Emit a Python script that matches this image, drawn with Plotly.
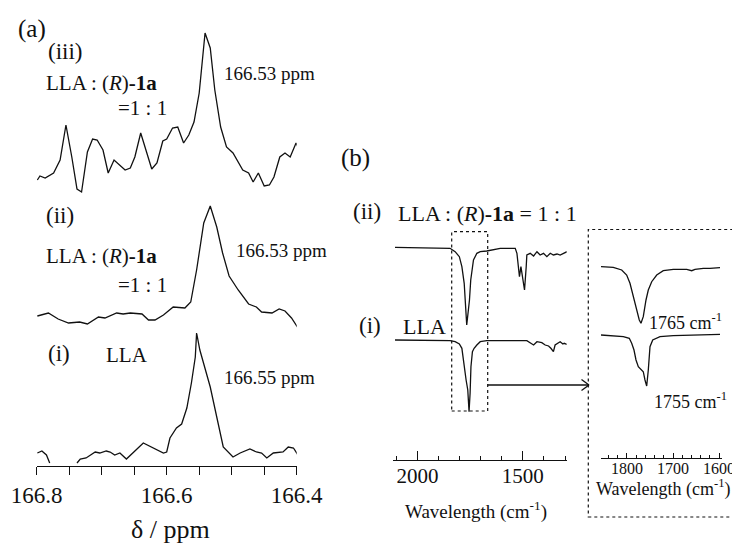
import plotly.graph_objects as go

# page body has an 8px margin; figure is sized/positioned to compensate
PAGE_OFF = 8
W, H = 740 - PAGE_OFF, 547 - PAGE_OFF
FONT = "Liberation Serif"
INK = "#111111"

# ---------------- data ----------------
# (a) 13C NMR spectra, chemical shift (ppm) vs intensity (a.u.)
NMR_TICKS = [166.8, 166.6, 166.4]
NMR_TICK_TEXT = ["166.8", "166.6", "166.4"]
NMR_MINOR = [166.75, 166.7, 166.65, 166.55, 166.5, 166.45]

ppm_i = [166.799, 166.792, 166.785, 166.780, None, 166.738, 166.733, 166.724, 166.710,
         166.703, 166.693, 166.687, 166.680, 166.672, 166.662, 166.636, 166.621, 166.605,
         166.600, 166.595, 166.585, 166.577, 166.569, 166.562, 166.556, 166.554, 166.549,
         166.541, 166.533, 166.523, 166.513, 166.498, 166.487, 166.472, 166.462, 166.454,
         166.446, 166.436, 166.426, 166.421, 166.413, 166.405, 166.398]
int_i = [13, 15, 11, 3, None, 3, 7, 8, 14, 13, 15, 14, 11, 13, 7, 23, 18, 13, 14, 28, 38, 42,
         58, 83, 109, 133, 116, 98, 79, 49, 19, 9, 13, 17, 14, 13, 8, 13, 14, 14, 19, 18, 11]

ppm_ii = [166.799, 166.782, 166.767, 166.751, 166.734, 166.722, 166.705, 166.695, 166.677,
          166.667, 166.656, 166.638, 166.628, 166.618, 166.605, 166.590, 166.572, 166.563,
          166.554, 166.543, 166.533, 166.523, 166.514, 166.504, 166.490, 166.474, 166.462,
          166.454, 166.438, 166.427, 166.418, 166.408, 166.399]
int_ii = [10, 13, 7, 3, 4, 2, 9, 8, 13, 12, 13, 12, 6, 6, 11, 19, 18, 24, 56, 103, 120, 99,
          73, 50, 36, 22, 19, 14, 13, 17, 15, 8, -1]

ppm_iii = [166.799, 166.795, 166.787, 166.774, 166.764, 166.755, 166.746, 166.738, 166.731,
           166.722, 166.714, 166.707, 166.698, 166.690, 166.681, 166.672, 166.664, 166.656,
           166.649, 166.640, 166.631, 166.623, 166.615, 166.606, 166.600, 166.591, 166.583,
           166.574, 166.566, 166.558, 166.550, 166.541, 166.533, 166.526, 166.517, 166.508,
           166.498, 166.483, 166.474, 166.467, 166.459, 166.450, 166.442, 166.435, 166.426,
           166.418, 166.410, 166.401, 166.398]
int_iii = [6, 10, 8, 13, 26, 61, 29, -3, -6, 34, 47, 46, 36, 13, 26, 21, 16, 18, 29, 53, 33,
           17, 23, 45, 47, 58, 59, 43, 51, 64, 93, 153, 138, 96, 59, 39, 33, 16, 13, 4, 13, 0,
           1, 9, 29, 33, 29, 43, 39]

# (b) IR spectra, wavenumber (cm-1) vs transmittance change (a.u.)
IR_TICKS = [2000, 1500]
IR_MINOR = [2100, 1900, 1800, 1700, 1600, 1400, 1300]

wn_i = [2106, 1845, 1821, 1801, 1789, 1782, 1774, 1769, 1761, 1758, 1755, 1750, 1746, 1739,
        1731, 1718, 1702, 1671, 1576, 1481, 1462, 1449, 1433, 1410, 1394, 1378, 1367, 1355,
        1347, 1336, 1323, 1310, 1304, 1291]
tr_i = [0, -0.7, -1.7, -4, -8.3, -20, -36.7, -40, -50, -60, -71.7, -53.3, -26.7, -11.7, -8.3,
        -5, -1.7, -0.7, -0.7, -0.7, -3.3, -5, -1.7, -2.7, -5, -6, -8.3, -11.7, -5, -3.3,
        -1.7, -4, -3.3, -4.3]

wn_ii = [2106, 1845, 1821, 1801, 1789, 1778, 1766, 1753, 1747, 1742, 1734, 1718, 1702, 1671,
         1639, 1607, 1560, 1536, 1528, 1521, 1516, 1509, 1505, 1500, 1492, 1484, 1481, 1465,
         1449, 1433, 1418, 1402, 1386, 1370, 1355, 1338, 1323, 1307, 1291]
tr_ii = [0, -1, -4.4, -9.4, -19.4, -36, -77.7, -52.7, -32.7, -26, -12.7, -6, -4.4, -3.7,
         -2.7, -1, -1, -1, -6, -19.4, -29.4, -19.4, -26, -32.7, -42.7, -19.4, -7.7, -6, -8.7,
         -4.4, -7.7, -6, -9.4, -6, -7.7, -6.7, -7.7, -6, -4.4]

# (b) inset, expanded C=O region
INSET_TICKS = [1800, 1700, 1600]
INSET_MINOR = [1840, 1820, 1780, 1760, 1740, 1720, 1680, 1660, 1640, 1620]

wn_in_ii = [1856.5, 1829.8, 1811.5, 1800.7, 1793.5, 1786.3, 1778.9, 1773.3, 1769.6, 1764.6,
            1758.7, 1753.7, 1746.3, 1735.4, 1721.1, 1699.3, 1670.2, 1659.3, 1652.2, 1634.1,
            1619.6, 1597.8]
tr_in_ii = [0, -0.6, -3.3, -8.3, -16.6, -30, -43.3, -53.3, -56.6, -50, -33.3, -23.3, -15,
            -8.3, -4, -2.6, -2.6, -4, -2.6, -1.6, -1.6, -1]

wn_in_i = [1856.5, 1829.8, 1808, 1795, 1789.8, 1784.8, 1780.4, 1775.4, 1769.6, 1764.6,
           1760.9, 1757.2, 1753.7, 1750, 1744.1, 1735.4, 1728.3, 1699.3, 1648.5, 1597.8]
tr_in_i = [0, -1, -1.7, -3.3, -8.3, -15, -25, -31.7, -35, -36.7, -45, -51, -35, -11.7, -5,
           -3.3, -1.7, -0.7, 0, 0.7]

# vertical stacking offsets (a.u.)
NMR_OFFSETS = [0, 140, 280]
IR_OFFSETS = [120, 212.7]
INSET_OFFSETS = [122.7, 191]


# ---------------- figure ----------------
def px(x):
    return (x - PAGE_OFF) / W


def py(y):
    return 1 - (y - PAGE_OFF) / H


def shifted(vals, off):
    return [None if v is None else v + off for v in vals]


LINE = dict(color=INK, width=1.3)
fig = go.Figure()

for xs, ys, off in [(ppm_i, int_i, NMR_OFFSETS[0]),
                    (ppm_ii, int_ii, NMR_OFFSETS[1]),
                    (ppm_iii, int_iii, NMR_OFFSETS[2])]:
    fig.add_trace(go.Scatter(x=xs, y=shifted(ys, off), mode="lines", line=LINE,
                             xaxis="x", yaxis="y", showlegend=False, connectgaps=False,
                             hoverinfo="skip"))

for xs, ys, off in [(wn_i, tr_i, IR_OFFSETS[0]), (wn_ii, tr_ii, IR_OFFSETS[1])]:
    fig.add_trace(go.Scatter(x=xs, y=shifted(ys, off), mode="lines", line=LINE,
                             xaxis="x2", yaxis="y2", showlegend=False, hoverinfo="skip"))

for xs, ys, off in [(wn_in_i, tr_in_i, INSET_OFFSETS[0]), (wn_in_ii, tr_in_ii, INSET_OFFSETS[1])]:
    fig.add_trace(go.Scatter(x=xs, y=shifted(ys, off), mode="lines", line=LINE,
                             xaxis="x3", yaxis="y3", showlegend=False, hoverinfo="skip"))

AX = dict(showline=True, linecolor=INK, linewidth=1.4, showgrid=False, zeroline=False,
          tickcolor=INK, tickwidth=1.4, automargin=False, fixedrange=True)
HIDDEN = dict(visible=False, showgrid=False, zeroline=False, fixedrange=True)

fig.update_layout(
    width=W, height=H, template="none",
    margin=dict(l=0, r=0, t=0, b=0),
    paper_bgcolor="white", plot_bgcolor="rgba(0,0,0,0)",
    font=dict(family=FONT, color=INK),
    xaxis=dict(AX, domain=[px(36.7), px(296.7)], range=[166.8, 166.4], anchor="y",
               ticks="outside", ticklen=8, tickvals=NMR_TICKS, ticktext=NMR_TICK_TEXT,
               tickfont=dict(family=FONT, size=23, color=INK),
               minor=dict(tickvals=NMR_MINOR, ticks="outside", ticklen=8, tickwidth=1.4,
                          tickcolor=INK, showgrid=False)),
    yaxis=dict(HIDDEN, domain=[py(466), py(26)], range=[0, 440], anchor="x"),
    xaxis2=dict(AX, domain=[px(392.7), px(566.7)], range=[2117, 1292], anchor="y2",
                ticks="inside", ticklen=9, tickvals=IR_TICKS,
                ticktext=[str(v) for v in IR_TICKS], ticklabelstandoff=-3,
                tickfont=dict(family=FONT, size=21, color=INK),
                minor=dict(tickvals=IR_MINOR, ticks="inside", ticklen=4, tickwidth=1.4,
                           tickcolor=INK, showgrid=False)),
    yaxis2=dict(HIDDEN, domain=[py(460), py(220)], range=[0, 240], anchor="x2"),
    xaxis3=dict(AX, domain=[px(601), px(722)], range=[1856.5, 1593.5], anchor="y3",
                ticks="inside", ticklen=5, tickvals=INSET_TICKS,
                ticktext=[str(v) for v in INSET_TICKS], ticklabelstandoff=-4,
                tickfont=dict(family=FONT, size=16, color=INK),
                minor=dict(tickvals=INSET_MINOR, ticks="inside", ticklen=3, tickwidth=1.2,
                           tickcolor=INK, showgrid=False)),
    yaxis3=dict(HIDDEN, domain=[py(457.7), py(250)], range=[0, 207.7], anchor="x3"),
)

R1A = "LLA : (<i>R</i>)<b>-1a</b>"


def note(text, x, y, size, xanchor="left"):
    fig.add_annotation(text=text, x=px(x), y=py(y), xref="paper", yref="paper",
                       xanchor=xanchor, yanchor="middle", showarrow=False, borderpad=0,
                       font=dict(family=FONT, size=size, color=INK))


# panel (a)
note("(a)", 17, 29, 25)
note("(iii)", 47, 51.5, 23)
note(R1A, 45, 83.5, 21)
note("=1 : 1", 168, 107.5, 21, "right")
note("166.53 ppm", 223, 73, 19)
note("(ii)", 45, 215.5, 23)
note(R1A, 45, 256, 21)
note("=1 : 1", 168, 285, 21, "right")
note("166.53 ppm", 235, 250, 19)
note("(i)", 47, 353, 23)
note("LLA", 105, 355, 21)
note("166.55 ppm", 223, 377.5, 19)
note("δ / ppm", 170, 529, 26, "center")

# panel (b)
note("(b)", 340, 158, 25)
note("(ii)", 352, 212, 23)
note(R1A + " = 1 : 1", 397, 213, 22)
note("(i)", 358, 325, 23)
note("LLA", 402, 326, 22)
note("Wavelength (cm<sup>-1</sup>)", 476, 510, 19, "center")
note("1765 cm<sup>-1</sup>", 648, 321, 18)
note("1755 cm<sup>-1</sup>", 653, 400, 18)
note("Wavelength (cm<sup>-1</sup>)", 663, 488, 18, "center")

# dotted boxes and arrow
DOT = dict(color=INK, width=1.2, dash="dot")
fig.add_shape(type="rect", xref="paper", yref="paper", x0=px(451.7), x1=px(487.7),
              y0=py(411), y1=py(231.7), line=DOT)
fig.add_shape(type="rect", xref="paper", yref="paper", x0=px(588.3), x1=px(760),
              y0=py(517), y1=py(229.5), line=DOT)
ARW = dict(color=INK, width=1.3)
fig.add_shape(type="line", xref="paper", yref="paper", x0=px(487.7), x1=px(589),
              y0=py(385), y1=py(385), line=ARW)
fig.add_shape(type="line", xref="paper", yref="paper", x0=px(581.5), x1=px(589),
              y0=py(379.5), y1=py(385), line=ARW)
fig.add_shape(type="line", xref="paper", yref="paper", x0=px(581.5), x1=px(589),
              y0=py(390.5), y1=py(385), line=ARW)

fig.write_html("out.html")
